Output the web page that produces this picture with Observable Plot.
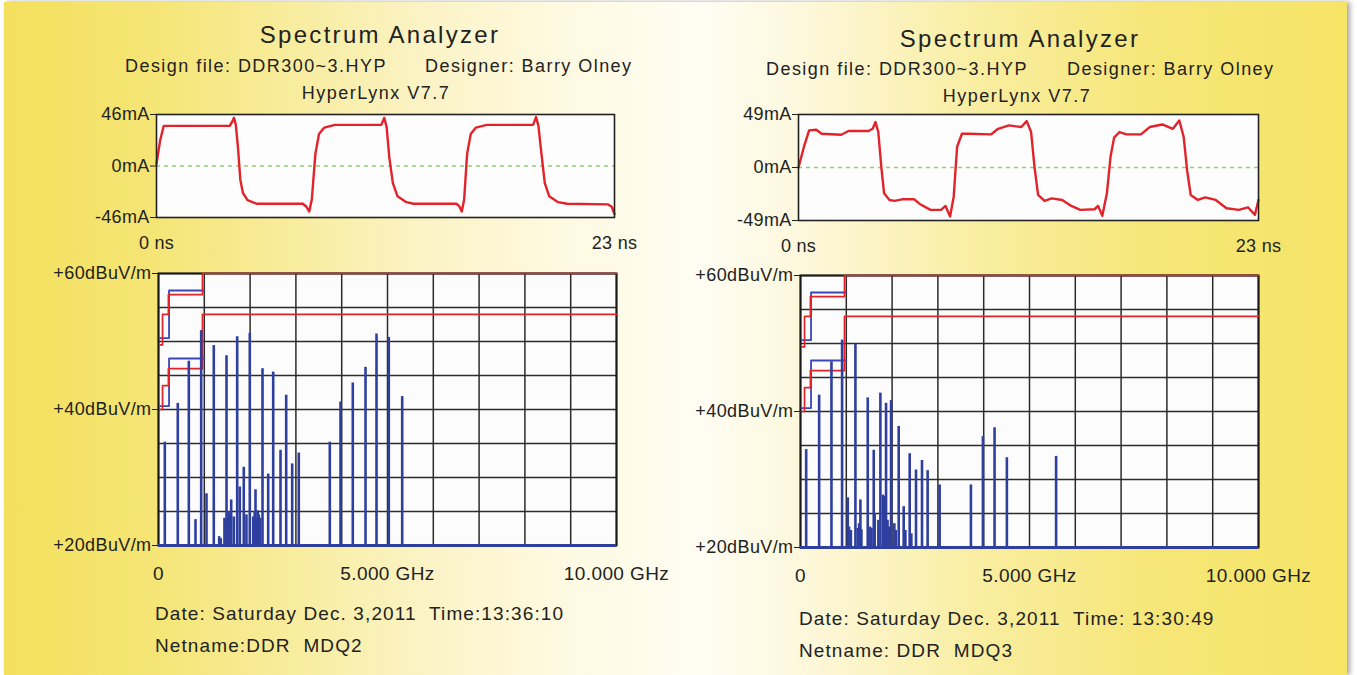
<!DOCTYPE html>
<html>
<head>
<meta charset="utf-8">
<script src="https://cdn.jsdelivr.net/npm/d3@7"></script>
<script src="https://cdn.jsdelivr.net/npm/@observablehq/plot@0.6"></script>
<style>
  html, body { margin: 0; padding: 0; background: #ffffff; }
  #stage { position: relative; width: 1357px; height: 675px; overflow: hidden; background: #ffffff; font-family: "Liberation Sans", Arial, sans-serif; color: #222; }
  #bg { position: absolute; left: 4px; top: 2px; width: 1343px; height: 673px;
        background: linear-gradient(90deg, #f3e05c 0%, #f5e575 11%, #f8ec9c 21%, #fbf3c4 31%, #fef9e0 41%, #fffdf3 52%, #fdf7da 60%, #f9eea3 72%, #f6e677 86%, #f5e466 100%);
        box-shadow: 3px 0 5px rgba(0,0,0,0.35); }
  .t { position: absolute; white-space: pre; line-height: 1; }
  .title { font-size: 24px; letter-spacing: 2.3px; text-align: center; width: 600px; }
  .sub { font-size: 18px; letter-spacing: 1.45px; }
  .subc { font-size: 18px; letter-spacing: 1.5px; text-align: center; width: 600px; }
  .foot { font-size: 19px; letter-spacing: 1.1px; }
  .plot { position: absolute; }
</style>
</head>
<body>
<div id="stage"><div id="bg"></div></div>
<script>
// ---------- data ----------
// Left panel (Netname DDR MDQ2) current waveform, time in ns, current in mA
const leftWaveT = [0, 0.18, 0.36, 3.68, 3.80, 3.89, 3.98, 4.09, 4.21, 4.34, 4.57, 5.02, 7.35, 7.53, 7.67, 7.80, 7.98, 8.16, 8.43, 8.96, 11.29, 11.44, 11.56, 11.69, 11.87, 12.10, 12.55, 12.91, 15.06, 15.20, 15.33, 15.45, 15.60, 15.78, 16.04, 16.58, 18.91, 19.06, 19.18, 19.33, 19.50, 19.72, 20.17, 20.62, 22.68, 22.86, 23.0];
const leftWaveI = [2, 22.6, 35.8, 35.8, 39.6, 43.1, 37.2, 16.8, -12.4, -24.1, -30.5, -33.7, -33.7, -36.4, -40.7, -29.9, 11, 28.5, 34.3, 36.7, 36.7, 43.1, 34.3, 8, -15.3, -27, -32.3, -33.7, -33.7, -35.8, -40.7, -29.9, 11, 28.5, 34.3, 36.7, 36.7, 43.7, 35.8, 11, -15.3, -27, -32.3, -33.7, -34.3, -36.4, -43];
// Right panel (Netname DDR MDQ3)
const rightWaveT = [0, 0.27, 0.53, 0.89, 1.16, 2.14, 2.50, 3.48, 3.71, 3.85, 3.99, 4.14, 4.28, 4.55, 4.81, 5.17, 5.79, 6.06, 6.60, 7.13, 7.35, 7.58, 7.76, 7.93, 8.17, 8.47, 9.63, 9.98, 10.52, 11.14, 11.41, 11.63, 11.80, 11.98, 12.30, 12.66, 13.19, 13.64, 14.09, 14.80, 14.98, 15.19, 15.42, 15.60, 15.78, 16.05, 16.40, 17.12, 17.56, 18.19, 18.72, 19.04, 19.26, 19.43, 19.61, 19.97, 20.33, 20.86, 21.40, 22.02, 22.47, 22.82, 23.0];
const rightWaveI = [0, 19, 34.3, 34.9, 31.2, 30.3, 33.7, 33.7, 35.8, 42, 32.8, 0.6, -23.9, -30, -30.9, -29.4, -29.4, -33.7, -39.2, -39.2, -35.5, -45.3, -27, 19, 31.2, 31.2, 30.6, 35.8, 38.9, 37.4, 42.9, 32.8, 0.6, -25.4, -30.9, -28.5, -30, -35.5, -39.2, -38.6, -35.5, -44.7, -23.9, 9.8, 27.6, 32.8, 30.6, 30.6, 37.4, 39.8, 35.8, 43.5, 28.2, -2.5, -25.4, -30, -27.6, -30, -37.7, -39.2, -36.8, -43.8, -30];

// Spectrum spikes: frequency (GHz) and level (dBuV/m)
const leftSpikeF  = [0.138, 0.421, 0.662, 0.808, 0.932, 1.048, 1.207, 1.325, 1.36, 1.44, 1.47, 1.485, 1.50, 1.53, 1.56, 1.587, 1.644, 1.718, 1.775, 1.862, 1.92, 1.993, 2.068, 2.10, 2.118, 2.13, 2.168, 2.19, 2.22, 2.271, 2.395, 2.504, 2.664, 2.788, 2.919, 3.063, 3.740, 3.974, 4.242, 4.520, 4.760, 5.028, 5.321];
const leftSpikeDb = [35.2, 40.9, 47.1, 23.8, 51.6, 27.6, 49.4, 21.3, 21.0, 24.0, 23.5, 47.9, 24.0, 25.0, 24.5, 26.7, 24.2, 50.7, 28.6, 31.5, 24.5, 51.2, 24.2, 25.0, 28.2, 24.0, 25.1, 24.5, 24.0, 46.0, 30.5, 45.5, 34.0, 42.1, 32.0, 33.6, 35.2, 41.1, 43.9, 46.2, 51.1, 50.6, 41.9];
const rightSpikeF  = [0.124, 0.407, 0.676, 0.908, 1.032, 1.06, 1.10, 1.199, 1.25, 1.28, 1.308, 1.33, 1.468, 1.52, 1.55, 1.599, 1.62, 1.70, 1.744, 1.80, 1.82, 1.84, 1.868, 1.90, 1.93, 1.977, 2.049, 2.08, 2.144, 2.253, 2.29, 2.384, 2.42, 2.522, 2.653, 2.776, 3.038, 3.721, 3.983, 4.237, 4.506, 5.581];
const rightSpikeDb = [34.4, 42.4, 47.3, 50.5, 27.3, 23.0, 22.5, 49.9, 22.8, 23.5, 27.0, 22.6, 42.0, 23.0, 22.8, 34.3, 25.0, 24.0, 42.7, 27.7, 27.0, 27.5, 41.2, 24.0, 23.0, 41.6, 23.5, 22.5, 37.8, 26.0, 22.5, 33.8, 22.0, 31.4, 32.8, 31.3, 29.2, 29.2, 36.3, 37.6, 33.2, 33.4];

// Emission limit lines (GHz breakpoints, dBuV/m)
const fccFreq   = [0.03, 0.088, 0.216, 0.96, 10];
const fccClassA = [49.5, 54, 56.9, 60, 60];
const fccClassB = [40, 43.5, 46, 54, 54];
const cisprFreq   = [0.03, 0.23, 1.0];
const cisprClassA = [50.5, 57.5, 57.5];
const cisprClassB = [40.5, 47.5, 47.5];

// Axes / tick labels
const leftWaveTicks = [-46, 0, 46];
const rightWaveTicks = [-49, 0, 49];
const timeTicks = [0, 23];
const dbTicks = [20, 40, 60];
const dbGrid = [20, 25, 30, 35, 40, 45, 50, 55, 60];
const ghzGrid = [0, 1, 2, 3, 4, 5, 6, 7, 8, 9, 10];
const ghzTicks = [0, 5, 10];
const ghzTickLabels = ["0", "5.000 GHz", "10.000 GHz"];

const panels = [
  { waveT: leftWaveT, waveI: leftWaveI, waveTicks: leftWaveTicks,
    spikeF: leftSpikeF, spikeDb: leftSpikeDb,
    wave: { left: 156, top: 114, w: 458, h: 103 },
    spec: { left: 158, top: 273, w: 458, h: 272 },
    title: { cx: 380, top: 23 }, sub1: { left: 125, top: 57 }, sub2: { left: 425, top: 57 },
    hyp: { cx: 376, top: 84 }, date: { left: 155, top: 604 }, net: { left: 155, top: 636 },
    dateText: "Date: Saturday Dec. 3,2011  Time:13:36:10", netText: "Netname:DDR  MDQ2" },
  { waveT: rightWaveT, waveI: rightWaveI, waveTicks: rightWaveTicks,
    spikeF: rightSpikeF, spikeDb: rightSpikeDb,
    wave: { left: 798, top: 114, w: 460, h: 106 },
    spec: { left: 800, top: 275, w: 458, h: 272 },
    title: { cx: 1020, top: 27 }, sub1: { left: 766, top: 60 }, sub2: { left: 1067, top: 60 },
    hyp: { cx: 1017, top: 87 }, date: { left: 799, top: 609 }, net: { left: 799, top: 641 },
    dateText: "Date: Saturday Dec. 3,2011  Time: 13:30:49", netText: "Netname: DDR  MDQ3" }
];

const RED = "#e2232a";
const BLUE = "#2f3f9f";
const LIMIT_BLUE = "#3a46b8";
const FONT = "'Liberation Sans', Arial, sans-serif";

const stage = document.getElementById("stage");
function addText(cls, text, left, top) {
  const d = document.createElement("div");
  d.className = "t " + cls;
  d.textContent = text;
  d.style.left = left + "px";
  d.style.top = top + "px";
  stage.appendChild(d);
}

for (const p of panels) {
  addText("title", "Spectrum Analyzer", p.title.cx - 300, p.title.top);
  addText("sub", "Design file: DDR300~3.HYP", p.sub1.left, p.sub1.top);
  addText("sub", "Designer: Barry Olney", p.sub2.left, p.sub2.top);
  addText("subc", "HyperLynx V7.7", p.hyp.cx - 300, p.hyp.top);
  addText("foot", p.dateText, p.date.left, p.date.top);
  addText("foot", p.netText, p.net.left, p.net.top);

  // ---- waveform plot ----
  const wm = { l: 80, r: 50, t: 10, b: 44 };
  const wIdx = d3.range(p.waveT.length);
  const wmax = p.waveTicks[2];
  const wave = Plot.plot({
    width: p.wave.w + wm.l + wm.r, height: p.wave.h + wm.t + wm.b,
    marginLeft: wm.l, marginRight: wm.r, marginTop: wm.t, marginBottom: wm.b,
    x: { domain: [0, 23], axis: null },
    y: { domain: [-wmax, wmax], axis: null },
    style: { background: "transparent", fontFamily: FONT, fontSize: "18px", color: "#222", overflow: "visible", letterSpacing: "0.3px" },
    marks: [
      Plot.frame({ fill: "#fdfdfd" }),
      Plot.ruleY([0], { stroke: "#8fcf74", strokeWidth: 1.6, strokeDasharray: "4,4" }),
      Plot.line(wIdx, { x: i => p.waveT[i], y: i => p.waveI[i], stroke: RED, strokeWidth: 2.4 }),
      Plot.frame({ stroke: "#222", strokeWidth: 1.6 }),
      Plot.axisY(p.waveTicks, { tickFormat: d => `${d}mA`, tickSize: 6, tickPadding: 1, fontSize: 18, stroke: "#222" }),
      Plot.axisX(timeTicks, { tickFormat: d => `${d} ns`, tickSize: 0, tickPadding: 19, fontSize: 18 })
    ]
  });
  wave.classList.add("plot");
  wave.style.left = (p.wave.left - wm.l) + "px";
  wave.style.top = (p.wave.top - wm.t) + "px";
  stage.appendChild(wave);

  // ---- spectrum plot ----
  const sm = { l: 115, r: 65, t: 10, b: 50 };
  const sIdx = d3.range(p.spikeF.length);
  const fIdx = d3.range(fccFreq.length);
  const cIdx = d3.range(cisprFreq.length);
  const spec = Plot.plot({
    width: p.spec.w + sm.l + sm.r, height: p.spec.h + sm.t + sm.b,
    marginLeft: sm.l, marginRight: sm.r, marginTop: sm.t, marginBottom: sm.b,
    x: { domain: [0, 10], axis: null },
    y: { domain: [20, 60], axis: null },
    style: { background: "transparent", fontFamily: FONT, fontSize: "18px", color: "#222", overflow: "visible", letterSpacing: "0.4px" },
    marks: [
      Plot.frame({ fill: "#fcfcfc" }),
      Plot.ruleY(dbGrid, { stroke: "#2b2b2b", strokeWidth: 1.5 }),
      Plot.ruleX(ghzGrid, { stroke: "#2b2b2b", strokeWidth: 1.5 }),
      Plot.frame({ stroke: "#1a1a1a", strokeWidth: 2 }),
      Plot.line(cIdx, { x: i => cisprFreq[i], y: i => cisprClassA[i], curve: "step-after", stroke: LIMIT_BLUE, strokeWidth: 1.8 }),
      Plot.line(cIdx, { x: i => cisprFreq[i], y: i => cisprClassB[i], curve: "step-after", stroke: LIMIT_BLUE, strokeWidth: 1.8 }),
      Plot.line(fIdx, { x: i => fccFreq[i], y: i => fccClassA[i], curve: "step-after", stroke: RED, strokeWidth: 1.7 }),
      Plot.line(fIdx, { x: i => fccFreq[i], y: i => fccClassB[i], curve: "step-after", stroke: RED, strokeWidth: 1.7 }),
      Plot.ruleX(sIdx, { x: i => p.spikeF[i], y1: 20, y2: i => p.spikeDb[i], stroke: BLUE, strokeWidth: 2.6 }),
      Plot.ruleY([20], { stroke: BLUE, strokeWidth: 2.8 }),
      Plot.axisY(dbTicks, { tickFormat: d => `+${d}dBuV/m`, tickSize: 6, tickPadding: 1, fontSize: 18, stroke: "#222" }),
      Plot.axisX(ghzTicks, { tickFormat: (d, i) => ghzTickLabels[i], tickSize: 0, tickPadding: 21, fontSize: 19 })
    ]
  });
  spec.classList.add("plot");
  spec.style.left = (p.spec.left - sm.l) + "px";
  spec.style.top = (p.spec.top - sm.t) + "px";
  stage.appendChild(spec);
}
</script>
</body>
</html>
